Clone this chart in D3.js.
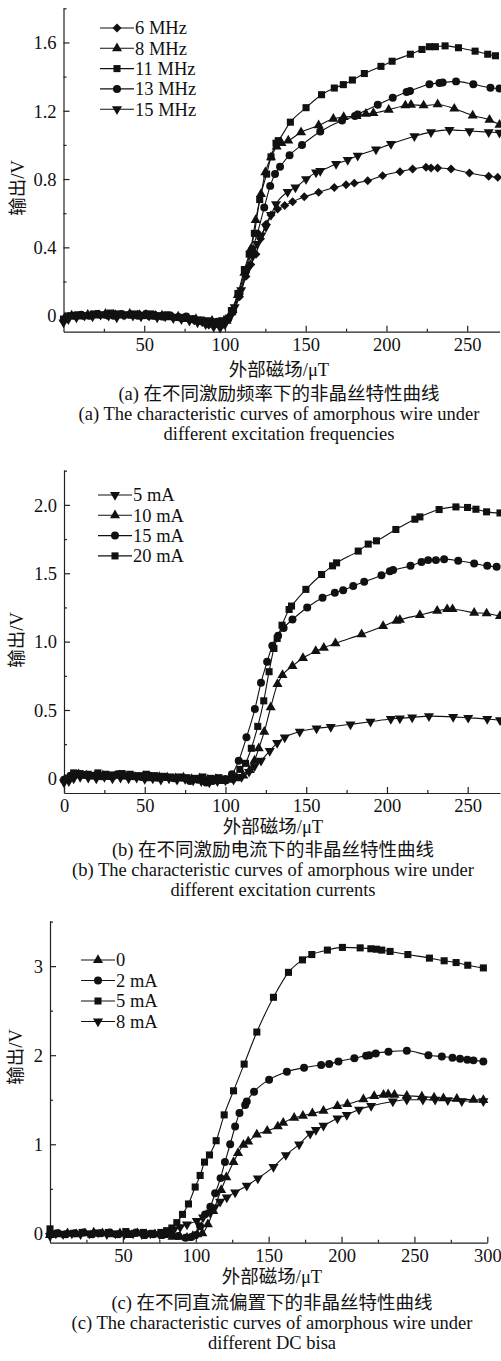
<!DOCTYPE html>
<html>
<head>
<meta charset="utf-8">
<script src="https://cdn.jsdelivr.net/npm/d3@7"></script>
<style>
  body { margin: 0; background: #fff; }
  svg text { font-family: "Liberation Serif", "Noto Sans CJK SC", serif; fill: #111; }
</style>
</head>
<body>
<svg id="chart" width="501" height="1361"></svg>
<script>
// ---- panel (a): excitation frequency ----
const aNames = ["6 MHz", "8 MHz", "11 MHz", "13 MHz", "15 MHz"];
const a6 = [[0,-0.03],[3,-0.01],[7,0.0],[12,0.0],[17,0.005],[22,0.01],[27,0.0],[32,0.01],[37,0.0],[42,0.005],[47,0.01],[52,0.0],[57,0.005],[62,-0.005],[67,0.0],[72,-0.01],[77,-0.015],[81,-0.03],[86,-0.04],[90,-0.055],[95,-0.04],[99,-0.05],[102,-0.02],[105,0.02],[109,0.11],[113,0.23],[116,0.3],[119.2,0.36],[122,0.45],[125.4,0.535],[128.5,0.59],[132.6,0.624],[137,0.645],[141.9,0.667],[149.1,0.696],[158,0.722],[167.7,0.751],[175,0.767],[180.1,0.776],[188.4,0.79],[197.6,0.82],[208.4,0.843],[216.2,0.859],[224.5,0.869],[227.6,0.865],[231.7,0.865],[240,0.859],[251.4,0.835],[263.3,0.816],[268.9,0.81]];
const a8 = [[1,-0.01],[5,0.0],[10,-0.005],[15,0.005],[20,0.0],[26,0.01],[31,0.005],[36,0.0],[41,0.01],[46,0.0],[51,0.005],[56,-0.005],[61,0.0],[66,-0.01],[71,-0.005],[76,-0.02],[82,-0.02],[87,-0.035],[92,-0.03],[97,-0.04],[101,-0.03],[104,0.02],[108,0.12],[112,0.25],[116,0.39],[119,0.56],[122.3,0.712],[125,0.84],[128.5,0.927],[132,0.99],[135,1.01],[139.2,1.025],[147.1,1.074],[158,1.114],[167.1,1.153],[173.5,1.163],[181.5,1.169],[187.3,1.182],[191.9,1.186],[201.4,1.206],[211.7,1.231],[215.2,1.235],[223,1.231],[231.7,1.237],[242,1.212],[253.4,1.172],[263.8,1.147],[270,1.118]];
const a11 = [[0,-0.02],[4,0.0],[9,0.005],[14,0.0],[19,0.01],[24,0.005],[29,0.015],[34,0.01],[39,0.005],[44,0.01],[49,0.0],[54,0.01],[59,0.0],[64,0.005],[69,-0.01],[74,-0.01],[79,-0.02],[84,-0.025],[89,-0.03],[94,-0.045],[98,-0.03],[101,-0.02],[104,0.03],[108,0.13],[112,0.27],[115,0.36],[118.2,0.482],[121.5,0.68],[125.8,0.829],[128.5,0.93],[131.6,1.01],[133,1.025],[140.5,1.133],[150.2,1.218],[159.8,1.294],[167.7,1.333],[173.3,1.353],[178.9,1.38],[186.3,1.418],[196.6,1.46],[203.5,1.49],[214.8,1.531],[222,1.559],[226.6,1.575],[230.3,1.575],[236.3,1.58],[244.6,1.569],[254.9,1.549],[262.7,1.531],[267.5,1.522]];
const a13 = [[2,-0.01],[6,0.0],[11,0.005],[16,0.0],[21,0.01],[26,0.005],[31,0.0],[36,0.01],[41,0.005],[46,0.0],[51,0.01],[56,0.0],[61,-0.005],[66,0.0],[71,-0.01],[76,-0.005],[80,-0.02],[85,-0.03],[90,-0.04],[95,-0.035],[99,-0.045],[102,-0.02],[105,0.03],[109,0.13],[113,0.26],[117,0.39],[120,0.48],[124.3,0.633],[128,0.76],[131,0.83],[134.1,0.872],[140,0.94],[147.7,1.0],[159,1.078],[172.5,1.143],[180.5,1.169],[182.2,1.178],[194.6,1.235],[203.9,1.276],[212.5,1.31],[214.6,1.316],[226.6,1.355],[232.8,1.363],[234.8,1.365],[243.1,1.372],[253.8,1.355],[264.4,1.335],[270,1.33]];
const a15 = [[0,-0.04],[3,-0.02],[8,-0.01],[13,0.0],[18,-0.005],[23,0.005],[28,0.0],[33,-0.01],[38,0.005],[43,0.0],[48,-0.005],[53,0.0],[58,-0.01],[63,-0.005],[68,-0.015],[73,-0.02],[78,-0.03],[83,-0.04],[88,-0.05],[93,-0.065],[97,-0.07],[100,-0.05],[103,-0.01],[106,0.05],[110,0.15],[114,0.27],[117,0.35],[120,0.42],[122.5,0.47],[125.4,0.52],[128.5,0.59],[131.6,0.653],[138.8,0.725],[143.6,0.751],[150.2,0.8],[156.4,0.839],[159,0.848],[168.8,0.888],[176,0.912],[182.2,0.937],[193.5,0.973],[202.8,1.006],[217.3,1.051],[227.6,1.075],[239,1.088],[251.4,1.081],[263.3,1.075],[270,1.072]];
const aXTicks = [50, 100, 150, 200, 250];
const aYTicks = [0, 0.4, 0.8, 1.2, 1.6];

// ---- panel (b): excitation current ----
const bNames = ["5 mA", "10 mA", "15 mA", "20 mA"];
const b5 = [[0,-0.03],[3,-0.02],[6,0.0],[10,0.01],[15,0.005],[20,0.0],[25,0.01],[30,0.0],[35,0.005],[40,0.0],[45,0.005],[50,-0.005],[55,0.0],[60,-0.01],[65,0.0],[70,-0.01],[75,-0.005],[80,-0.015],[85,-0.02],[90,-0.03],[95,-0.02],[100,-0.015],[105,-0.01],[110,0.01],[114.6,0.048],[118,0.09],[122,0.13],[127.4,0.2],[132,0.26],[136.7,0.3],[146,0.341],[156.4,0.365],[165.2,0.377],[177.4,0.395],[189.8,0.414],[202.4,0.434],[208,0.439],[215.6,0.446],[226,0.455],[241,0.45],[250.3,0.443],[262.1,0.434],[270,0.426]];
const b10 = [[1,-0.01],[5,0.02],[9,0.03],[14,0.02],[19,0.015],[24,0.02],[29,0.01],[34,0.02],[39,0.015],[44,0.01],[49,0.015],[54,0.0],[59,0.01],[64,0.005],[69,0.0],[74,0.005],[79,-0.005],[84,0.0],[89,-0.01],[94,-0.005],[99,-0.02],[103,-0.01],[107,0.0],[111,0.02],[115,0.06],[118,0.13],[120.6,0.219],[124,0.34],[128,0.52],[132.2,0.689],[135.3,0.755],[141.5,0.821],[148,0.88],[155.9,0.93],[160.9,0.955],[168.1,0.987],[184.3,1.053],[197.6,1.113],[205.9,1.152],[208,1.16],[220.4,1.194],[231.1,1.225],[237.3,1.237],[240.6,1.237],[254,1.211],[261.7,1.206],[270,1.186]];
const b15 = [[0,-0.01],[4,0.02],[8,0.03],[13,0.025],[18,0.02],[23,0.015],[28,0.02],[33,0.03],[38,0.02],[43,0.015],[48,0.01],[53,0.02],[58,0.005],[63,0.01],[68,0.0],[73,0.005],[78,-0.02],[83,-0.01],[88,-0.03],[92,-0.02],[96,-0.01],[100,-0.005],[104,0.03],[108.2,0.129],[113,0.3],[118.2,0.507],[122,0.7],[125.8,0.852],[129,0.97],[132.6,1.043],[136,1.1],[141.5,1.162],[150.6,1.25],[160.1,1.32],[167.7,1.357],[172.9,1.376],[179.1,1.406],[185.9,1.437],[196.6,1.486],[201.8,1.515],[203.8,1.523],[214.6,1.554],[221.4,1.583],[225.5,1.596],[230.3,1.596],[235.4,1.603],[244.1,1.591],[254,1.572],[262.1,1.554],[267.9,1.547]];
const b20 = [[2,0.0],[6,0.04],[10,0.035],[15,0.03],[21,0.04],[26,0.03],[31,0.025],[36,0.035],[41,0.03],[46,0.02],[51,0.03],[56,0.02],[61,0.015],[66,0.01],[71,0.01],[76,0.005],[81,0.0],[86,0.01],[91,0.0],[96,0.005],[100,-0.01],[104,0.0],[108.9,0.066],[112.4,0.11],[116,0.22],[120,0.38],[123.7,0.567],[127,0.78],[130,0.95],[132,1.023],[135,1.12],[139.4,1.235],[140.9,1.26],[149.8,1.382],[159.5,1.491],[166.3,1.554],[168.8,1.576],[182.2,1.662],[188.4,1.713],[193.5,1.737],[205.5,1.82],[217.3,1.895],[220.4,1.912],[232.3,1.966],[242.7,1.985],[249.9,1.981],[255.1,1.968],[261.7,1.949],[270,1.941]];
const bXTicks = [0, 50, 100, 150, 200, 250];
const bYTicks = [0, 0.5, 1.0, 1.5, 2.0];

// ---- panel (c): DC bias ----
const cNames = ["0", "2 mA", "5 mA", "8 mA"];
const c0 = [[0,-0.02],[6,-0.01],[12,0.0],[18,-0.01],[24,0.0],[30,0.01],[36,0.0],[42,-0.01],[48,0.0],[54,-0.02],[60,0.0],[66,-0.01],[72,-0.01],[78,-0.02],[84,-0.04],[89,-0.04],[94,-0.05],[98,-0.03],[101,-0.01],[104.5,0.0],[108.3,0.1],[112,0.25],[117.4,0.486],[121,0.63],[125.9,0.8],[129,0.9],[132.7,0.995],[136,1.03],[141.9,1.11],[149,1.15],[156.3,1.2],[160,1.24],[167.5,1.297],[173.5,1.32],[180,1.347],[187.6,1.376],[197.2,1.429],[204,1.451],[215,1.504],[222.4,1.54],[228.8,1.555],[232,1.56],[236.3,1.555],[244.8,1.545],[255.1,1.535],[263.5,1.525],[269.9,1.515],[279.1,1.51],[290.5,1.5],[297.3,1.495]];
const c2 = [[0,-0.01],[5,0.0],[11,-0.01],[17,0.0],[23,0.01],[29,-0.01],[35,0.0],[41,0.01],[47,-0.01],[53,0.0],[59,0.01],[65,-0.02],[71,-0.01],[77,-0.02],[83,-0.01],[88,-0.03],[93,-0.05],[97,-0.04],[99.6,-0.02],[103,0.08],[106.4,0.213],[110,0.3],[113.3,0.449],[117,0.62],[120,0.8],[123.6,1.0],[127,1.2],[130,1.35],[133.9,1.44],[135,1.48],[140,1.59],[150.3,1.725],[162.5,1.815],[174.3,1.86],[186,1.89],[191.5,1.9],[197.9,1.93],[208.8,1.965],[216.9,1.995],[219,2.0],[223.5,2.02],[232.2,2.04],[244.8,2.05],[259.6,2.0],[268.8,1.985],[276.1,1.972],[281.3,1.96],[286.3,1.95],[290.5,1.942],[297.3,1.93]];
const c5 = [[0,0.05],[5,0.0],[10,-0.01],[16,0.0],[22,0.01],[28,-0.01],[34,0.0],[40,0.01],[46,-0.01],[52,0.02],[58,0.0],[64,0.01],[70,0.0],[76,0.01],[80,0.03],[83.6,0.06],[87,0.12],[90.9,0.213],[95,0.33],[99.6,0.52],[103,0.65],[106,0.8],[109.4,0.88],[114,1.04],[119.5,1.33],[125.9,1.6],[133.2,1.9],[141.9,2.26],[153.3,2.65],[163.6,2.93],[173.2,3.07],[179.6,3.13],[190.3,3.18],[200.6,3.21],[212.8,3.205],[220.1,3.195],[224,3.19],[227.6,3.18],[233.3,3.165],[245.5,3.13],[260.3,3.09],[270.4,3.06],[278.6,3.04],[286.6,3.01],[297.3,2.98]];
const c8 = [[0,-0.03],[4,0.0],[9,-0.01],[15,0.0],[21,-0.01],[27,0.0],[33,0.01],[39,-0.01],[45,0.0],[51,-0.01],[57,0.0],[63,-0.01],[69,0.0],[75,-0.01],[80,0.01],[85,0.04],[89.3,0.07],[94,0.1],[100.7,0.14],[105,0.18],[109.9,0.231],[113,0.29],[116.7,0.355],[121.3,0.404],[127,0.46],[135,0.534],[142.6,0.617],[153.3,0.747],[161.8,0.879],[170.9,0.999],[178.5,1.12],[182.4,1.16],[187.6,1.21],[197.2,1.29],[203.6,1.33],[212,1.39],[220.3,1.43],[235.2,1.48],[244.8,1.5],[255.8,1.5],[264.2,1.5],[272.9,1.495],[282.5,1.485],[297.3,1.485]];
const cXTicks = [50, 100, 150, 200, 250, 300];
const cYTicks = [0, 1, 2, 3];

const xTitle = "外部磁场/μT";
const yTitle = "输出/V";
const captionsA = ["(a) 在不同激励频率下的非晶丝特性曲线", "(a) The characteristic curves of amorphous wire under", "different excitation frequencies"];
const captionsB = ["(b) 在不同激励电流下的非晶丝特性曲线", "(b) The characteristic curves of amorphous wire under", "different excitation currents"];
const captionsC = ["(c) 在不同直流偏置下的非晶丝特性曲线", "(c) The characteristic curves of amorphous wire under", "different DC bisa"];

const svg = d3.select("#chart");
const fs = 18.5;

const sym = {
  diamond: { type: d3.symbolSquare, size: 40, rot: 45 },
  up: { type: d3.symbolTriangle, size: 44, rot: 0 },
  square: { type: d3.symbolSquare, size: 50, rot: 0 },
  circle: { type: d3.symbolCircle, size: 50, rot: 0 },
  down: { type: d3.symbolTriangle, size: 44, rot: 180 }
};

function drawPanel(p) {
  const x = d3.scaleLinear().domain(p.xDomain).range(p.xRange);
  const y = d3.scaleLinear().domain(p.yDomain).range(p.yRange);
  const g = svg.append("g");

  // minor ticks
  g.append("g").attr("transform", `translate(0,${p.yRange[0]})`)
    .call(d3.axisBottom(x).tickValues(p.xMinor).tickFormat("").tickSizeInner(-3).tickSizeOuter(0))
    .call(s => s.select(".domain").remove())
    .selectAll("line").attr("stroke", "#222").attr("stroke-width", 1.2);
  g.append("g").attr("transform", `translate(${p.xRange[0]},0)`)
    .call(d3.axisLeft(y).tickValues(p.yMinor).tickFormat("").tickSizeInner(-3).tickSizeOuter(0))
    .call(s => s.select(".domain").remove())
    .selectAll("line").attr("stroke", "#222").attr("stroke-width", 1.2);

  const xa = g.append("g").attr("transform", `translate(0,${p.yRange[0]})`)
    .call(d3.axisBottom(x).tickValues(p.xTicks).tickFormat(d3.format("d")).tickSizeInner(-6).tickSizeOuter(0).tickPadding(6));
  const ya = g.append("g").attr("transform", `translate(${p.xRange[0]},0)`)
    .call(d3.axisLeft(y).tickValues(p.yTicks).tickFormat(p.yFmt).tickSizeInner(-6).tickSizeOuter(0).tickPadding(7));
  [xa, ya].forEach(a => {
    a.selectAll("text").attr("font-size", fs).style("font-family", "Liberation Serif");
    a.selectAll("line, path").attr("stroke", "#222").attr("stroke-width", 1.2);
  });
  ya.selectAll("text").attr("dy", "0.34em");
  xa.selectAll("text").attr("dy", "0.72em");

  const line = d3.line().x(d => x(d[0])).y(d => y(d[1])).curve(d3.curveMonotoneX);
  p.series.forEach(s => {
    g.append("path").datum(s.data).attr("d", line)
      .attr("fill", "none").attr("stroke", "#111").attr("stroke-width", 1.1);
    const m = sym[s.marker];
    g.selectAll(null).data(s.data).join("path")
      .attr("d", d3.symbol(m.type, m.size))
      .attr("transform", d => `translate(${x(d[0])},${y(d[1])}) rotate(${m.rot})`)
      .attr("fill", "#111");
  });

  // legend
  p.series.forEach((s, i) => {
    const ly = p.legend.y + i * p.legend.dy;
    g.append("line").attr("x1", p.legend.x).attr("x2", p.legend.x + 34)
      .attr("y1", ly).attr("y2", ly).attr("stroke", "#111").attr("stroke-width", 1.1);
    const m = sym[s.marker];
    g.append("path").attr("d", d3.symbol(m.type, m.size)())
      .attr("transform", `translate(${p.legend.x + 17},${ly}) rotate(${m.rot})`).attr("fill", "#111");
    g.append("text").attr("x", p.legend.x + 35).attr("y", ly).attr("dy", "0.35em")
      .attr("font-size", fs).text(s.name);
  });

  // titles
  g.append("text").attr("x", p.center).attr("y", p.xTitleY).attr("text-anchor", "middle")
    .attr("font-size", fs).attr("fill", "#222").text(xTitle);
  g.append("text").attr("transform", `translate(${p.yTitleX},${p.yTitleY}) rotate(-90)`)
    .attr("text-anchor", "middle").attr("dy", "0.35em").attr("font-size", fs).attr("fill", "#222").text(yTitle);
  p.captions.forEach((c, i) => {
    g.append("text").attr("x", p.center).attr("y", p.capY + i * 20).attr("text-anchor", "middle")
      .attr("font-size", fs).text(c);
  });
}

drawPanel({
  xDomain: [0, 270], xRange: [63.5, 499.5],
  yDomain: [-0.094, 1.80], yRange: [331.7, 8.3],
  xTicks: aXTicks, xMinor: [25, 75, 125, 175, 225],
  yTicks: aYTicks, yMinor: [0.2, 0.6, 1.0, 1.4, 1.8], yFmt: d => d === 0 ? "0" : d3.format(".1f")(d),
  series: [
    { name: aNames[0], data: a6, marker: "diamond" },
    { name: aNames[1], data: a8, marker: "up" },
    { name: aNames[2], data: a11, marker: "square" },
    { name: aNames[3], data: a13, marker: "circle" },
    { name: aNames[4], data: a15, marker: "down" }
  ],
  legend: { x: 100, y: 28, dy: 20.3 },
  center: 279, xTitleY: 376, yTitleX: 18, yTitleY: 188,
  captions: captionsA, capY: 400
});

drawPanel({
  xDomain: [0, 270], xRange: [64, 500],
  yDomain: [-0.107, 2.255], yRange: [793, 470],
  xTicks: bXTicks, xMinor: [25, 75, 125, 175, 225],
  yTicks: bYTicks, yMinor: [0.25, 0.75, 1.25, 1.75, 2.25], yFmt: d => d === 0 ? "0" : d3.format(".1f")(d),
  series: [
    { name: bNames[0], data: b5, marker: "down" },
    { name: bNames[1], data: b10, marker: "up" },
    { name: bNames[2], data: b15, marker: "circle" },
    { name: bNames[3], data: b20, marker: "square" }
  ],
  legend: { x: 98, y: 495, dy: 20.3 },
  center: 273, xTitleY: 833, yTitleX: 17, yTitleY: 640,
  captions: captionsB, capY: 856
});

drawPanel({
  xDomain: [0, 300], xRange: [50, 487.3],
  yDomain: [-0.105, 3.51], yRange: [1242.7, 920.7],
  xTicks: cXTicks, xMinor: [25, 75, 125, 175, 225, 275],
  yTicks: cYTicks, yMinor: [0.5, 1.5, 2.5, 3.5], yFmt: d3.format("d"),
  series: [
    { name: cNames[0], data: c0, marker: "up" },
    { name: cNames[1], data: c2, marker: "circle" },
    { name: cNames[2], data: c5, marker: "square" },
    { name: cNames[3], data: c8, marker: "down" }
  ],
  legend: { x: 81, y: 960, dy: 20.5 },
  center: 272, xTitleY: 1283, yTitleX: 16, yTitleY: 1057,
  captions: captionsC, capY: 1309
});
</script>
</body>
</html>
